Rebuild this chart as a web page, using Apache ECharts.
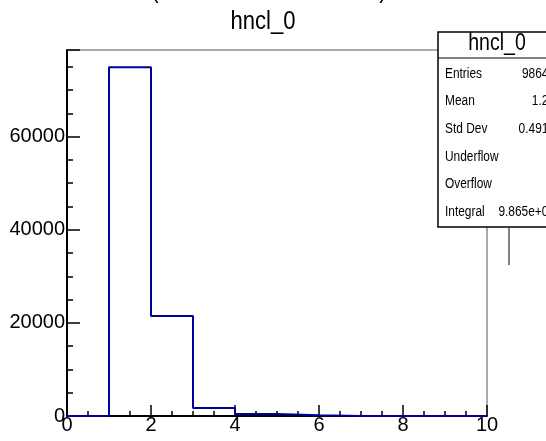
<!DOCTYPE html>
<html>
<head>
  <meta charset="utf-8">
  <title>hncl_0</title>
  <script src="https://cdn.jsdelivr.net/npm/echarts@6/dist/echarts.min.js"></script>
  <style>
    html, body { margin: 0; padding: 0; background: #fff; }
  </style>
</head>
<body>
  <div id="main" style="width: 546px;height:441px;"></div>
  <script type="text/javascript">
    // histogram bins (low edges) and bin contents
    var binEdges = [0, 1, 2, 3, 4, 5, 6, 7, 8, 9, 10];
    var binCounts = [0, 74880, 21500, 1700, 420, 149, 0, 0, 0, 0];
    var yMax = 78600;

    var statNames = ['Entries', 'Mean', 'Std Dev', 'Underflow', 'Overflow', 'Integral'];
    var statValues = ['98649', '1.26', '0.4912', '0', '0', '9.865e+04'];

    var font = '"Liberation Sans", Arial, sans-serif';
    var squeeze = 0.85; // the reference text looks horizontally condensed

    // step outline: one point per low edge, closing at the last edge
    var outline = binCounts.map(function (c, i) { return [binEdges[i], c]; });
    outline.push([binEdges[binEdges.length - 1], binCounts[binCounts.length - 1]]);

    var myChart = echarts.init(document.getElementById('main'));

    function label(txt, x, y, size, align, z) {
      return {
        type: 'text', x: x, y: y, z: z || 101, scaleX: squeeze,
        style: { text: txt, font: size + 'px ' + font, fill: '#000', align: align }
      };
    }

    var statTexts = [];
    statNames.forEach(function (name, i) {
      statTexts.push(label(name, 445, 67 + i * 27.6, 14, 'left'));
      statTexts.push(label(statValues[i], 555, 67 + i * 27.6, 14, 'right'));
    });

    var option = {
      animation: false,
      backgroundColor: '#fff',
      grid: {
        left: 67, right: 59, top: 50, bottom: 25,
        show: true, borderColor: '#555', borderWidth: 1
      },
      xAxis: {
        type: 'value',
        min: 0, max: 10, interval: 2,
        axisLine: { onZero: false, lineStyle: { color: '#000', width: 2 } },
        axisTick: { inside: true, length: 11, lineStyle: { color: '#000', width: 1.5 } },
        minorTick: { show: true, splitNumber: 4, length: 5, lineStyle: { color: '#000', width: 1.5 } },
        splitLine: { show: false },
        axisLabel: { fontFamily: font, fontSize: 20, color: '#000', margin: -1 }
      },
      yAxis: {
        type: 'value',
        min: 0, max: yMax, interval: 20000,
        axisLine: { show: true, onZero: false, lineStyle: { color: '#000', width: 2 } },
        axisTick: { show: true, inside: true, length: 13, lineStyle: { color: '#000', width: 1.5 } },
        minorTick: { show: true, splitNumber: 4, length: 6, lineStyle: { color: '#000', width: 1.5 } },
        splitLine: { show: false },
        axisLabel: {
          fontFamily: font, fontSize: 20, color: '#000', margin: 2,
          formatter: function (v) { return v % 20000 === 0 ? String(v) : ''; }
        }
      },
      series: [
        {
          name: 'hncl_0',
          type: 'line',
          step: 'end',
          showSymbol: false,
          data: outline,
          lineStyle: { color: '#000099', width: 2 },
          z: 3
        }
      ],
      graphic: [
        label('hncl_0', 263, 9, 26, 'center', 10),
        label('(', 155, -22, 26, 'center', 10),
        label(')', 383, -22, 26, 'center', 10),
        {
          type: 'line', z: 99,
          shape: { x1: 509, y1: 228, x2: 509, y2: 265 },
          style: { stroke: '#000', lineWidth: 1 }
        },
        {
          type: 'rect', z: 100,
          shape: { x: 438, y: 32, width: 130, height: 195 },
          style: { fill: '#fff', stroke: '#000', lineWidth: 1.5 }
        },
        {
          type: 'line', z: 101,
          shape: { x1: 438, y1: 58, x2: 546, y2: 58 },
          style: { stroke: '#000', lineWidth: 1 }
        },
        label('hncl_0', 497, 32, 23, 'center')
      ].concat(statTexts)
    };

    myChart.setOption(option);
  </script>
</body>
</html>
